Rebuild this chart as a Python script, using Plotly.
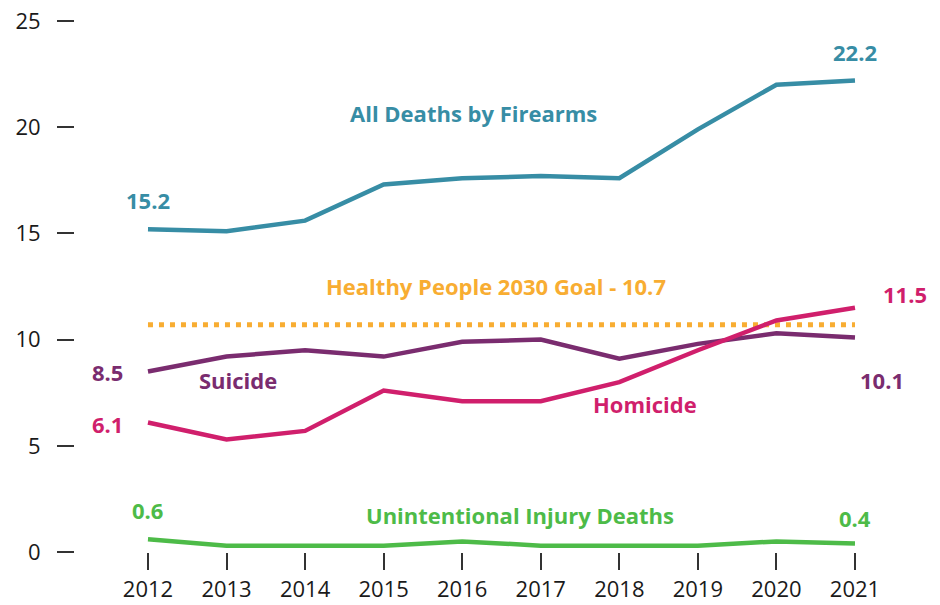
import plotly.graph_objects as go

years = [2012, 2013, 2014, 2015, 2016, 2017, 2018, 2019, 2020, 2021]
all_deaths = [15.2, 15.1, 15.6, 17.3, 17.6, 17.7, 17.6, 19.9, 22.0, 22.2]
suicide = [8.5, 9.2, 9.5, 9.2, 9.9, 10.0, 9.1, 9.8, 10.3, 10.1]
homicide = [6.1, 5.3, 5.7, 7.6, 7.1, 7.1, 8.0, 9.5, 10.9, 11.5]
unintentional = [0.6, 0.3, 0.3, 0.3, 0.5, 0.3, 0.3, 0.3, 0.5, 0.4]
goal = 10.7
y_ticks = [0, 5, 10, 15, 20, 25]

C_ALL = "#378da5"
C_SUI = "#7a2c6f"
C_HOM = "#d01f6c"
C_UNI = "#4dbb48"
C_GOAL = "#f8ad32"

X_RANGE = [2011.071, 2021.573]

fig = go.Figure()
fig.add_trace(go.Scatter(x=[years[0], years[-1]], y=[goal, goal], mode="lines",
                         line=dict(color=C_GOAL, width=5, dash="5px,6px"), hoverinfo="skip"))
for ys, c in [(all_deaths, C_ALL), (suicide, C_SUI), (homicide, C_HOM), (unintentional, C_UNI)]:
    fig.add_trace(go.Scatter(x=years, y=ys, mode="lines", line=dict(color=c, width=4.5)))

FONT = "Open Sans"
def ann(x, y, text, color, anchor="center"):
    frac = (x - X_RANGE[0]) / (X_RANGE[1] - X_RANGE[0])
    fig.add_annotation(x=frac, xref="x domain", y=y, yref="y", text="<b>%s</b>" % text,
                       showarrow=False, xanchor=anchor,
                       font=dict(family=FONT, size=22, color=color))

ann(2016.14, 20.67, "All Deaths by Firearms", C_ALL)
ann(years[0], 16.57, f"{all_deaths[0]}", C_ALL)
ann(years[-1], 23.54, f"{all_deaths[-1]}", C_ALL)
ann(2016.43, 12.52, f"Healthy People 2030 Goal - {goal}", C_GOAL)
ann(2021.64, 12.15, f"{homicide[-1]}", C_HOM)
ann(2011.48, 8.47, f"{suicide[0]}", C_SUI)
ann(2013.15, 8.1, "Suicide", C_SUI)
ann(2011.48, 6.03, f"{homicide[0]}", C_HOM)
ann(2018.33, 6.97, "Homicide", C_HOM)
ann(2021.34, 8.1, f"{suicide[-1]}", C_SUI)
ann(years[0], 1.98, f"{unintentional[0]}", C_UNI)
ann(2016.74, 1.74, "Unintentional Injury Deaths", C_UNI)
ann(years[-1], 1.6, f"{unintentional[-1]}", C_UNI)

fig.update_layout(
    width=940, height=605, showlegend=False,
    paper_bgcolor="white", plot_bgcolor="white",
    margin=dict(l=75, r=40, t=21, b=53),
    font=dict(family="Open Sans", color="#1a1a1a"),
)
fig.update_xaxes(range=X_RANGE, tickvals=years, ticktext=[str(y) for y in years],
                 showgrid=False, zeroline=False, showline=False, automargin=False,
                 ticks="outside", ticklen=17, tickwidth=1.5, tickcolor="#333",
                 ticklabelstandoff=1, ticklabeloverflow="allow",
                 tickfont=dict(size=22, family="Open Sans", color="#1a1a1a"))
fig.update_yaxes(range=[0, 25], tickvals=y_ticks, showgrid=False, zeroline=False, showline=False,
                 automargin=False,
                 ticks="outside", ticklen=17, tickwidth=1.5, tickcolor="#333",
                 ticklabelstandoff=12, ticklabeloverflow="allow",
                 tickfont=dict(size=22, family="Open Sans", color="#1a1a1a"))

fig.write_html("out.html", config={"displayModeBar": False},
               post_script="document.body.style.margin='0';document.body.style.overflow='hidden';")
